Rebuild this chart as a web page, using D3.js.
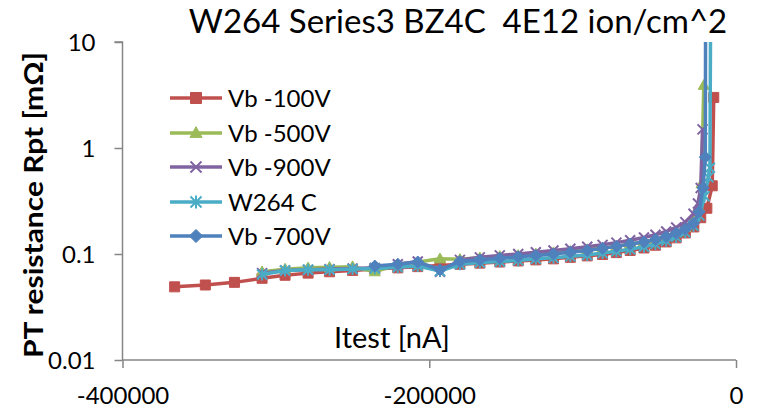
<!DOCTYPE html>
<html><head><meta charset="utf-8">
<script src="https://cdn.jsdelivr.net/npm/d3@7"></script>
<style>body{margin:0;background:#fff}svg{display:block}</style>
</head><body>
<svg id="c" width="760" height="411"></svg>
<script>
const titleText = "W264 Series3 BZ4C  4E12 ion/cm^2";
const xTitle = "Itest [nA]";
const yTitle = "PT resistance Rpt [mΩ]";
const xTickValues = [-400000, -200000, 0];
const yTickValues = [0.01, 0.1, 1, 10];
const seriesNames = ["Vb -100V", "Vb -500V", "Vb -900V", "W264 C", "Vb -700V"];
const seriesColors = ["#C0504D", "#9BBB59", "#8064A2", "#4BACC6", "#4F81BD"];
const seriesMarkers = ["square", "triangle", "x", "asterisk", "diamond"];

const x100 = [-366000,-346000,-327000,-309000,-294000,-279000,-265000,-250000,-235500,-220500,-207500,-193000,-180000,-167000,-154000,-142000,-130500,-119000,-108000,-97000,-87000,-78000,-69000,-60000,-52500,-45500,-39000,-33000,-27500,-23000,-19000,-15500,-14500];
const y100 = [0.049,0.051,0.054,0.059,0.063,0.066,0.068,0.070,0.072,0.074,0.076,0.078,0.080,0.082,0.084,0.086,0.088,0.090,0.093,0.096,0.099,0.103,0.108,0.114,0.121,0.130,0.142,0.158,0.18,0.22,0.27,0.44,3.0];

const x500 = [-309000,-294000,-279000,-265000,-250000,-235500,-220500,-207500,-193000,-180000,-167000,-154000,-142000,-130500,-119000,-108000,-97000,-87000,-78000,-69000,-60000,-52500,-45500,-39000,-33000,-27700,-24500,-22500,-21000];
const y500 = [0.068,0.072,0.074,0.075,0.076,0.068,0.080,0.084,0.090,0.089,0.092,0.095,0.097,0.100,0.103,0.106,0.110,0.114,0.118,0.124,0.130,0.138,0.148,0.160,0.178,0.21,0.28,0.46,3.9];

const x900 = [-309000,-294000,-279000,-265000,-250000,-235500,-220500,-207500,-193000,-180000,-167000,-154000,-142000,-130500,-119000,-108000,-97000,-87000,-78000,-69000,-60000,-52500,-45500,-39000,-33000,-27700,-24800,-23000,-21800];
const y900 = [0.066,0.070,0.071,0.072,0.073,0.074,0.080,0.085,0.068,0.088,0.093,0.097,0.100,0.104,0.108,0.112,0.117,0.122,0.128,0.135,0.143,0.152,0.163,0.178,0.20,0.24,0.30,0.42,1.5];

const xC = [-309000,-294000,-279000,-265000,-250000,-235500,-220500,-207500,-193000,-180000,-167000,-154000,-142000,-130500,-119000,-108000,-97000,-87000,-78000,-69000,-60000,-52500,-45500,-39000,-33000,-27700,-23800,-20500,-18000,-17000,-16500];
const yC = [0.064,0.070,0.071,0.071,0.072,0.073,0.075,0.077,0.069,0.080,0.083,0.085,0.087,0.090,0.092,0.095,0.098,0.102,0.106,0.111,0.117,0.124,0.133,0.145,0.160,0.185,0.23,0.35,0.53,0.65,30];

const x700 = [-235500,-220500,-207500,-193000,-180000,-167000,-154000,-142000,-130500,-119000,-108000,-97000,-87000,-78000,-69000,-60000,-52500,-45500,-39000,-33000,-27700,-24000,-21500,-20000,-19800];
const y700 = [0.077,0.080,0.084,0.071,0.085,0.088,0.091,0.094,0.097,0.100,0.104,0.108,0.113,0.118,0.124,0.130,0.137,0.146,0.157,0.172,0.195,0.25,0.42,0.82,30];

const seriesX = [x100, x500, x900, xC, x700];
const seriesY = [y100, y500, y900, yC, y700];

const svg = d3.select("#c");
const L = 122.5, R = 736, T = 42, B = 360;
const FONT = "Lato, 'Open Sans', sans-serif";
const x = d3.scaleLinear().domain([-400000, 0]).range([L, R]);
const y = d3.scaleLog().domain([0.01, 10]).range([B, T]);
const axisColor = "#868686";

svg.append("defs").append("clipPath").attr("id","plot")
  .append("rect").attr("x", L).attr("y", T).attr("width", R - L).attr("height", B - T);

const yAxis = svg.append("g").attr("transform", `translate(${L},0)`)
  .call(d3.axisLeft(y).tickValues(yTickValues).tickSize(8).tickFormat(d => String(d)));
const xAxis = svg.append("g").attr("transform", `translate(0,${B})`)
  .call(d3.axisBottom(x).tickValues(xTickValues).tickSize(8).tickFormat(d => String(d)));
[yAxis, xAxis].forEach(g => {
  g.select(".domain").attr("stroke", axisColor).attr("stroke-width", 1.5);
  g.selectAll(".tick line").attr("stroke", axisColor).attr("stroke-width", 1.5);
  g.selectAll("text").attr("fill", "#000").style("font-family", FONT).style("font-size", "24px");
});
yAxis.select(".domain").attr("d", `M-8,${T}H0V${B}`);
xAxis.select(".domain").attr("d", `M${L},0H${R}`);
yAxis.selectAll(".tick text").attr("x", -27).attr("dy", "0.36em");
xAxis.selectAll(".tick text").attr("y", 44).attr("dy", 0);

svg.append("text").attr("x", 458).attr("y", 33).attr("text-anchor", "middle")
  .attr("xml:space", "preserve").style("white-space", "pre")
  .style("font-family", FONT).style("font-size", "33px").attr("fill", "#000").text(titleText);
svg.append("text").attr("x", 392).attr("y", 348).attr("text-anchor", "middle")
  .style("font-family", FONT).style("font-size", "29px").attr("fill", "#000").text(xTitle);
svg.append("text").attr("transform", `translate(43,205) rotate(-90)`).attr("text-anchor", "middle")
  .attr("textLength", 306).attr("lengthAdjust", "spacingAndGlyphs")
  .style("font-family", FONT).style("font-size", "26px").style("font-weight", "bold").attr("fill", "#000").text(yTitle);

function markerPath(type, s) {
  switch (type) {
    case "square": return `M${-s},${-s}H${s}V${s}H${-s}Z`;
    case "triangle": return `M0,${-s * 1.15}L${s * 1.1},${s * 0.8}L${-s * 1.1},${s * 0.8}Z`;
    case "diamond": return `M0,${-s * 1.2}L${s * 1.2},0L0,${s * 1.2}L${-s * 1.2},0Z`;
    case "x": return `M${-s},${-s}L${s},${s}M${-s},${s}L${s},${-s}`;
    case "asterisk": return `M${-s},${-s}L${s},${s}M${-s},${s}L${s},${-s}M0,${-s * 1.2}V${s * 1.2}`;
  }
}
function drawMarker(g, type, color, cx, cy, s) {
  const filled = type === "square" || type === "triangle" || type === "diamond";
  g.append("path").attr("d", markerPath(type, s)).attr("transform", `translate(${cx},${cy})`)
    .attr("fill", filled ? color : "none").attr("stroke", color).attr("stroke-width", filled ? 1 : 2);
}

const plot = svg.append("g").attr("clip-path", "url(#plot)");
const line = d3.line().x(d => x(d[0])).y(d => y(d[1]));
seriesNames.forEach((name, i) => {
  const pts = seriesX[i].map((v, j) => [v, seriesY[i][j]]);
  const g = plot.append("g");
  g.append("path").attr("d", line(pts)).attr("fill", "none").attr("stroke", seriesColors[i])
    .attr("stroke-width", 3.5).attr("stroke-linejoin", "round");
  pts.forEach(p => {
    if (p[1] <= 10) drawMarker(g, seriesMarkers[i], seriesColors[i], x(p[0]), y(p[1]), 5);
  });
});

const legY = [98, 133, 167, 202, 236];
seriesNames.forEach((name, i) => {
  const g = svg.append("g");
  g.append("line").attr("x1", 170).attr("x2", 222).attr("y1", legY[i]).attr("y2", legY[i])
    .attr("stroke", seriesColors[i]).attr("stroke-width", 3.5);
  drawMarker(g, seriesMarkers[i], seriesColors[i], 196, legY[i], 5.5);
  g.append("text").attr("x", 228).attr("y", legY[i]).attr("dy", "0.36em")
    .style("font-family", FONT).style("font-size", "24px").attr("fill", "#000").text(name);
});
</script>
</body></html>
